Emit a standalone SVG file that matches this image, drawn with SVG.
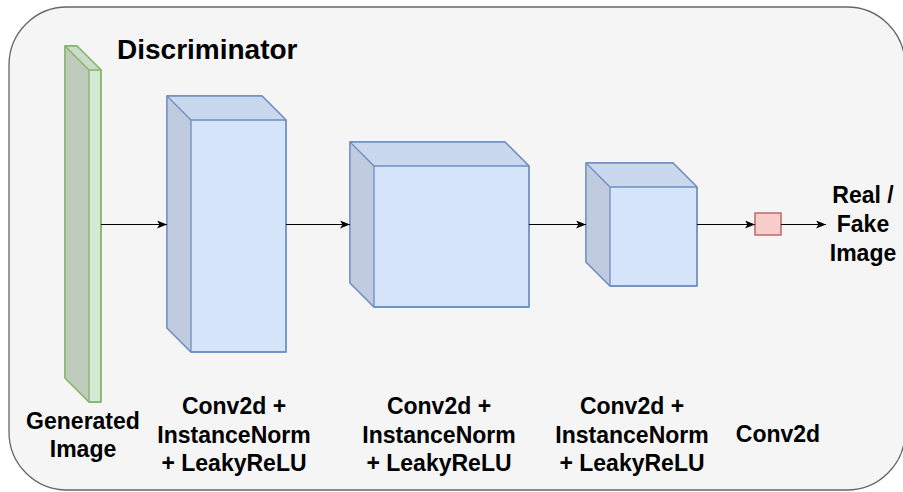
<svg xmlns="http://www.w3.org/2000/svg" width="903" height="492" viewBox="0 0 903 492">
  <defs>
    <marker id="arrow" viewBox="0 0 10 8" refX="10" refY="4" markerWidth="10" markerHeight="8" markerUnits="userSpaceOnUse" orient="auto">
      <path d="M0,0 L10,4 L0,8 L2.5,4 Z" fill="#000"/>
    </marker>
    <style>
      .frame { fill: #f5f5f5; stroke: #666666; stroke-width: 1.3; }
      .green .face { fill: #d5e8d4; stroke: #82b366; stroke-width: 1.3; stroke-linejoin: round; }
      .green .top { fill: #cadcc9; }
      .green .side { fill: #bfcbbd; }
      .green .edge { fill: none; stroke: #82b366; stroke-width: 1.3; }
      .blue .face { fill: #d6e4fa; stroke: #6c8ebf; stroke-width: 1.3; stroke-linejoin: round; }
      .blue .top { fill: #cad8ee; }
      .blue .side { fill: #c0cbe0; }
      .blue .edge { fill: none; stroke: #6c8ebf; stroke-width: 1.3; }
      .out { fill: #f8cecc; stroke: #b85450; stroke-width: 1.3; }
      .link { fill: none; stroke: #000; stroke-width: 1.2; marker-end: url(#arrow); }
      .label { font-family: "Liberation Sans", Arial, sans-serif; font-weight: bold; font-size: 23px; fill: #000; text-anchor: middle; }
      .title { font-family: "Liberation Sans", Arial, sans-serif; font-weight: bold; font-size: 28px; fill: #000; }
    </style>
  </defs>

  <!-- container -->
  <rect class="frame" x="9" y="7" width="896" height="483" rx="58" ry="58"/>
  <text class="title" x="117" y="58.5">Discriminator</text>

  <!-- input slab -->
  <g id="input-image" class="green">
    <path class="face" d="M65,46 L77,46 L101,70 L101,402 L89,402 L65,378 Z"/>
    <path class="top" d="M65,46 L77,46 L101,70 L89,70 Z"/>
    <path class="side" d="M65,46 L89,70 L89,402 L65,378 Z"/>
    <path class="face" style="fill:none" d="M65,46 L77,46 L101,70 L101,402 L89,402 L65,378 Z"/>
    <path class="edge" d="M65,46 L89,70 L101,70 M89,70 L89,402"/>
    <text class="label" x="83" y="428.5">Generated</text>
    <text class="label" x="83" y="457">Image</text>
  </g>

  <!-- block 1 -->
  <g id="conv-block-1" class="blue">
    <path class="face" d="M167,96 L262,96 L286,120 L286,352 L191,352 L167,328 Z"/>
    <path class="top" d="M167,96 L262,96 L286,120 L191,120 Z"/>
    <path class="side" d="M167,96 L191,120 L191,352 L167,328 Z"/>
    <path class="face" style="fill:none" d="M167,96 L262,96 L286,120 L286,352 L191,352 L167,328 Z"/>
    <path class="edge" d="M167,96 L191,120 L286,120 M191,120 L191,352"/>
    <text class="label" x="234" y="414">Conv2d +</text>
    <text class="label" x="234" y="442.5">InstanceNorm</text>
    <text class="label" x="234" y="471">+ LeakyReLU</text>
  </g>

  <!-- block 2 -->
  <g id="conv-block-2" class="blue">
    <path class="face" d="M350,142 L505,142 L529,166 L529,307 L374,307 L350,283 Z"/>
    <path class="top" d="M350,142 L505,142 L529,166 L374,166 Z"/>
    <path class="side" d="M350,142 L374,166 L374,307 L350,283 Z"/>
    <path class="face" style="fill:none" d="M350,142 L505,142 L529,166 L529,307 L374,307 L350,283 Z"/>
    <path class="edge" d="M350,142 L374,166 L529,166 M374,166 L374,307"/>
    <text class="label" x="439" y="414">Conv2d +</text>
    <text class="label" x="439" y="442.5">InstanceNorm</text>
    <text class="label" x="439" y="471">+ LeakyReLU</text>
  </g>

  <!-- block 3 -->
  <g id="conv-block-3" class="blue">
    <path class="face" d="M586,163 L673,163 L697,187 L697,286 L610,286 L586,262 Z"/>
    <path class="top" d="M586,163 L673,163 L697,187 L610,187 Z"/>
    <path class="side" d="M586,163 L610,187 L610,286 L586,262 Z"/>
    <path class="face" style="fill:none" d="M586,163 L673,163 L697,187 L697,286 L610,286 L586,262 Z"/>
    <path class="edge" d="M586,163 L610,187 L697,187 M610,187 L610,286"/>
    <text class="label" x="632" y="414">Conv2d +</text>
    <text class="label" x="632" y="442.5">InstanceNorm</text>
    <text class="label" x="632" y="471">+ LeakyReLU</text>
  </g>

  <!-- final conv -->
  <g id="conv-final">
    <rect class="out" x="755" y="213" width="26" height="22"/>
    <text class="label" x="778" y="442">Conv2d</text>
  </g>

  <!-- output -->
  <g id="output">
    <text class="label" x="863" y="203.3">Real /</text>
    <text class="label" x="863" y="232">Fake</text>
    <text class="label" x="863" y="260.5">Image</text>
  </g>

  <!-- connectors -->
  <g id="connectors">
    <path class="link" d="M101,224.5 L167,224.5"/>
    <path class="link" d="M286,224.5 L350,224.5"/>
    <path class="link" d="M529,224.5 L586,224.5"/>
    <path class="link" d="M697,224.5 L755,224.5"/>
    <path class="link" d="M781,224.5 L826,224.5"/>
  </g>
</svg>
